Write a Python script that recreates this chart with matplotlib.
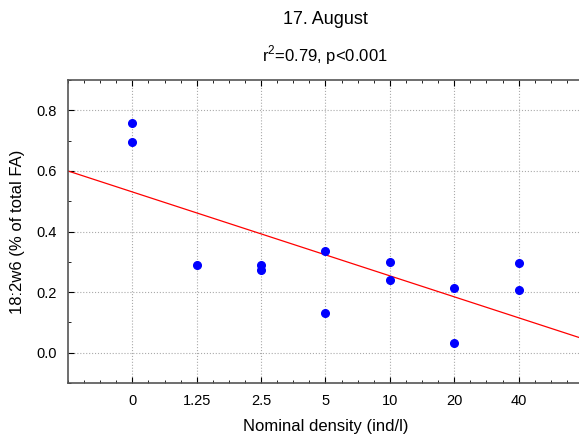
import numpy as np
import matplotlib
matplotlib.use("Agg")
import matplotlib.pyplot as plt
from matplotlib.ticker import MultipleLocator

plt.rcParams['font.family'] = ['Liberation Sans', 'DejaVu Sans']

# nominal density categories (plotted at equal spacing)
density_labels = ['0', '1.25', '2.5', '5', '10', '20', '40']
group_idx = [0, 0, 1, 2, 2, 3, 3, 4, 4, 5, 5, 6, 6]
fa_values = [0.757, 0.695, 0.288, 0.291, 0.274, 0.334, 0.132,
             0.298, 0.240, 0.214, 0.031, 0.297, 0.208]

fig = plt.figure(figsize=(5.79, 4.34), dpi=100)
ax = fig.add_axes([68/579, 1-383/434, (583-68)/579, (383-80)/434])

x = np.array(group_idx, dtype=float)
y = np.array(fa_values)
slope, icpt = np.polyfit(x, y, 1)
xx = np.array([-1, 7])
ax.plot(xx, icpt + slope*xx, color='red', lw=0.9, zorder=2)
ax.plot(x, y, 'o', color='blue', ms=5.5, mec='blue', zorder=3)

ax.set_xlim(-1, 7)
ax.set_ylim(-0.1, 0.9)
ax.set_xticks(range(len(density_labels)))
ax.set_xticklabels(density_labels)
ax.set_yticks([0.0, 0.2, 0.4, 0.6, 0.8])
ax.set_yticklabels(['0.0', '0.2', '0.4', '0.6', '0.8'])
ax.xaxis.set_minor_locator(MultipleLocator(0.25))
ax.yaxis.set_minor_locator(MultipleLocator(0.1))
ax.tick_params(which='both', direction='in', top=True, right=False, labelsize=10.5)
ax.tick_params(which='major', length=4, width=0.8, pad=8)
ax.tick_params(which='minor', length=2, width=0.6)
ax.grid(True, which='major', linestyle=':', color='#aaaaaa', lw=0.8)
for s in ax.spines.values():
    s.set_color('#555555')
    s.set_linewidth(1.2)

ax.set_xlabel('Nominal density (ind/l)', fontsize=12, labelpad=8)
ax.set_ylabel('18:2w6 (% of total FA)', fontsize=12, labelpad=8)

fig.text(325/579, 1-20/434, '17. August', ha='center', va='center', fontsize=13)
fig.text(325/579, 1-55/434, r'r$^{\mathregular{2}}$=0.79, p<0.001', ha='center', va='center', fontsize=12)

fig.savefig('out.png', dpi=100)
